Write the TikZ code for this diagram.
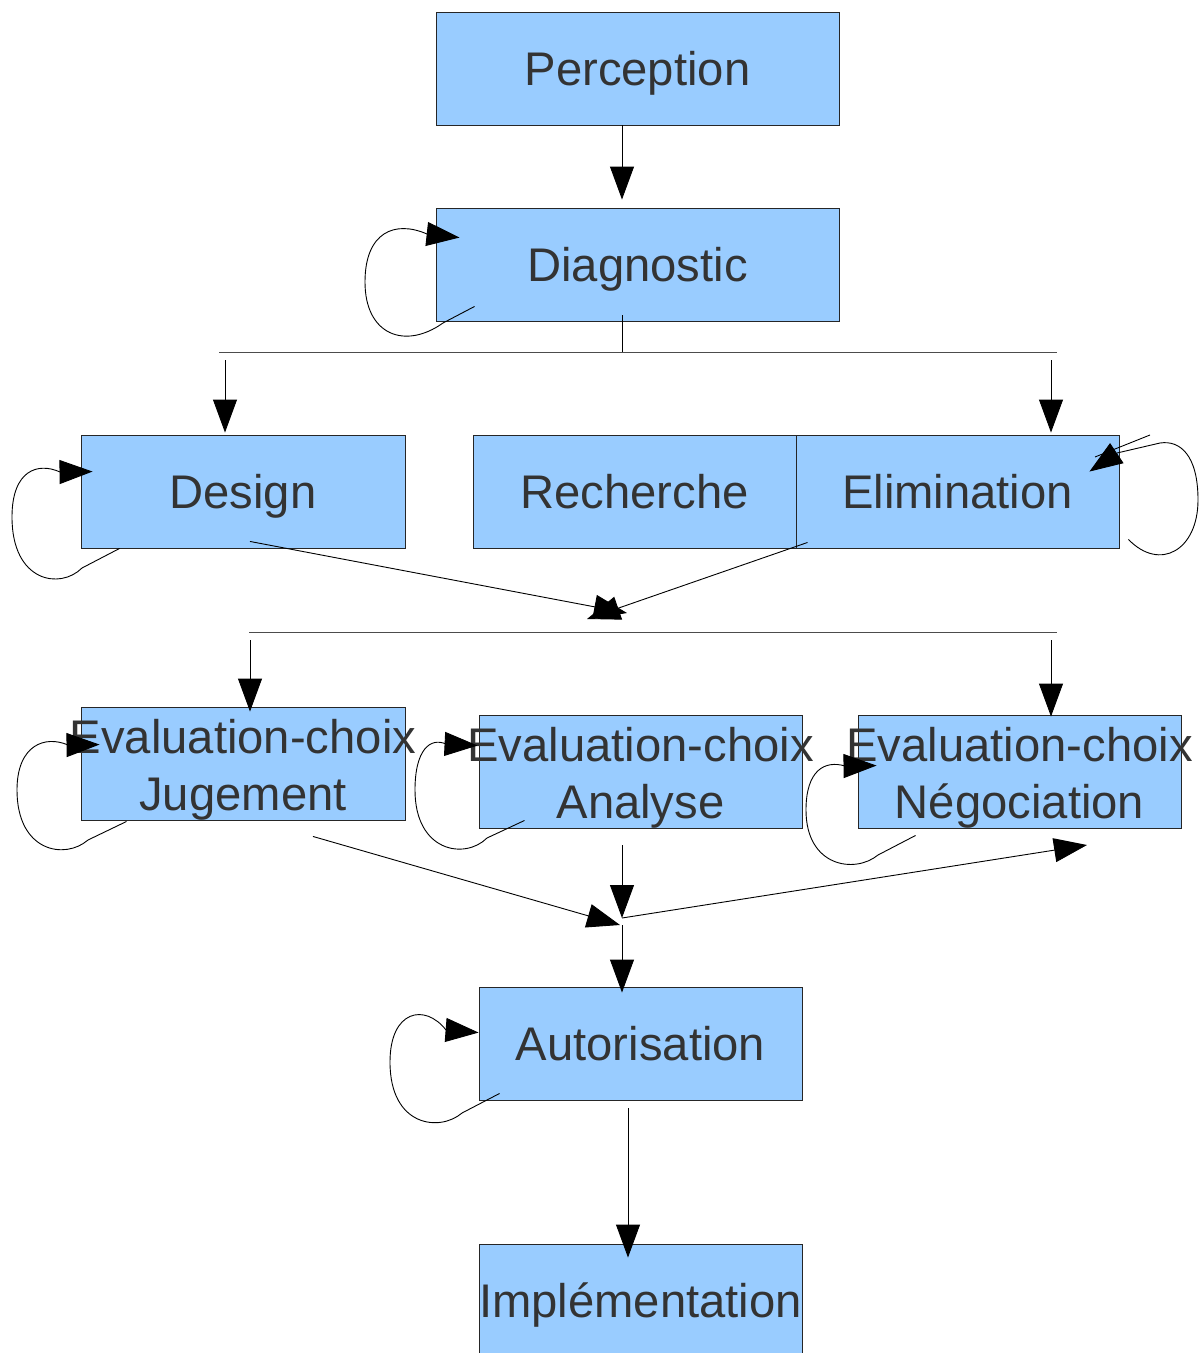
\documentclass[tikz,border=0pt]{standalone}
\usepackage{fontspec}
\setmainfont{Liberation Sans}
\usetikzlibrary{arrows.meta,calc}
\definecolor{boxfill}{HTML}{99CCFF}
\definecolor{boxtext}{HTML}{333333}
\tikzset{
  box/.style={draw=black!85, line width=0.9pt, fill=boxfill, minimum height=113pt,
    inner sep=0pt, text=boxtext, font=\fontsize{47.2}{57}\selectfont, align=center},
  conn/.style={line width=0.9pt, draw=black},
  arr/.style={conn, -{Triangle[length=33pt,width=24pt]}},
  bus/.style={line width=0.9pt, draw=black!70},
}
% zero-width centred line, and struts that fix where the text sits in a box
\newcommand{\zw}[1]{\makebox[0pt]{#1}}
\newcommand{\up}{\rule[-12pt]{0pt}{58pt}}
\newcommand{\topline}{\rule{0pt}{46pt}}
\newcommand{\botline}{\rule[-10pt]{0pt}{10pt}}
\begin{document}
\begin{tikzpicture}[x=1pt,y=-1pt]
\useasboundingbox (0,0) rectangle (1201,1353);
\fill[white] (0,0) rectangle (1201,1353);

% process steps
\node[box, minimum width=403pt] (perc)  at (637.5,68.5)  {\up Perception};
\node[box, minimum width=403pt] (diag)  at (637.5,264.5) {\up Diagnostic};
\node[box, minimum width=324pt] (design) at (243,491.5)  {\up Design};
\node[box, minimum width=323pt] (rech)  at (634.5,491.5) {\up Recherche};
\node[box, minimum width=323pt] (elim)  at (957.5,491.5) {\up Elimination};
\node[box, minimum width=324pt] (jug)   at (243,763.5)   {\zw{\topline Evaluation-choix}\\\zw{\botline Jugement}};
\node[box, minimum width=323pt] (ana)   at (640.5,771.5) {\zw{\topline Evaluation-choix}\\\zw{\botline Analyse}};
\node[box, minimum width=323pt] (neg)   at (1019.5,771.5) {\zw{\topline Evaluation-choix}\\\zw{\botline Négociation}};
\node[box, minimum width=323pt] (auto)  at (640.5,1043.5) {\up Autorisation};
\node[box, minimum width=323pt] (impl)  at (640.5,1300.5) {\zw{\up Implémentation}};

% junction points
\coordinate (b1l) at (219,352);
\coordinate (b1r) at (1057,352);
\coordinate (b1) at (622,352);
\coordinate (b2l) at (249,632);
\coordinate (b2r) at (1057,632);
\coordinate (m1a) at (627,613);
\coordinate (m1b) at (587,619);
\coordinate (j2) at (622,918);
\coordinate (j2b) at (622,925);
\coordinate (negin) at (1087,845);

% Perception -> Diagnostic -> first branch
\draw[arr] (perc.south -| b1) -- ([yshift=8pt]diag.north -| b1);
\draw[conn] ([yshift=6pt]diag.south -| b1) -- (b1);
\draw[bus] (b1l) -- (b1r);
\draw[arr] (225,360) -- ([yshift=2pt]design.north -| 225,0);
\draw[arr] (1051,360) -- ([yshift=2pt]elim.north -| 1051,0);

% Design / Elimination -> merge
\draw[arr] ([shift={(7,-7)}]design.south) -- (m1a);
\draw[arr] ([shift={(12,-6)}]elim.south west) -- (m1b);
\draw[bus] (b2l) -- (b2r);
\draw[arr] (250,640) -- ([yshift=-5pt]jug.north -| 250,0);
\draw[arr] (1051,640) -- ([yshift=-2pt]neg.north -| 1051,0);

% evaluation -> authorisation
\draw[arr] ([shift={(70,16)}]jug.south) -- ([xshift=-2pt]j2b);
\draw[arr] ([shift={(-18.5,17)}]ana.south) -- (j2);
\draw[arr] (j2) -- (negin);
\draw[arr] (j2b) -- ([yshift=-6pt]auto.north -| j2b);
\draw[arr] ([shift={(-12.5,8)}]auto.south) -- ([yshift=-14pt]impl.north -| 628,0);

% self loops
\draw[arr] ([shift={(39,-15)}]diag.south west) -- (443,323)
  .. controls (405,350) and (365,335) .. (365,282)
  .. controls (365,232) and (395,220) .. (427,234) -- ([shift={(24,30)}]diag.north west);
\draw[arr] ([shift={(39,0)}]design.south west) -- (82,568)
  .. controls (60,590) and (12,582) .. (12,517)
  .. controls (12,470) and (38,462) .. (60,472) -- ([shift={(12,37)}]design.north west);
\draw[arr] ([shift={(9,-9)}]elim.south east)
  .. controls (1160,572) and (1198,550) .. (1198,500)
  .. controls (1198,455) and (1180,440) .. (1160,443) -- (1117,453) -- ([shift={(-30,37)}]elim.north east);
\draw[conn] (1150,435) -- (1095,457);
\draw[arr] ([shift={(46,1)}]jug.south west) -- (88,840)
  .. controls (65,860) and (17,852) .. (17,790)
  .. controls (17,745) and (45,735) .. (68,745) -- ([shift={(19,38)}]jug.north west);
\draw[arr] ([shift={(46,-8)}]ana.south west) -- (487,838)
  .. controls (465,860) and (415,852) .. (415,790)
  .. controls (415,750) and (430,737) .. (446,744) -- ([shift={(-1,31)}]ana.north west);
\draw[arr] ([shift={(58,7)}]neg.south west) -- (878,855)
  .. controls (855,874) and (806,867) .. (806,810)
  .. controls (806,770) and (825,760) .. (845,766) -- ([shift={(19,51)}]neg.north west);
\draw[arr] ([shift={(21,-7)}]auto.south west) -- (462,1113)
  .. controls (440,1132) and (390,1127) .. (390,1062)
  .. controls (390,1010) and (425,1003) .. (446,1030) -- ([shift={(0,46)}]auto.north west);
\end{tikzpicture}
\end{document}
